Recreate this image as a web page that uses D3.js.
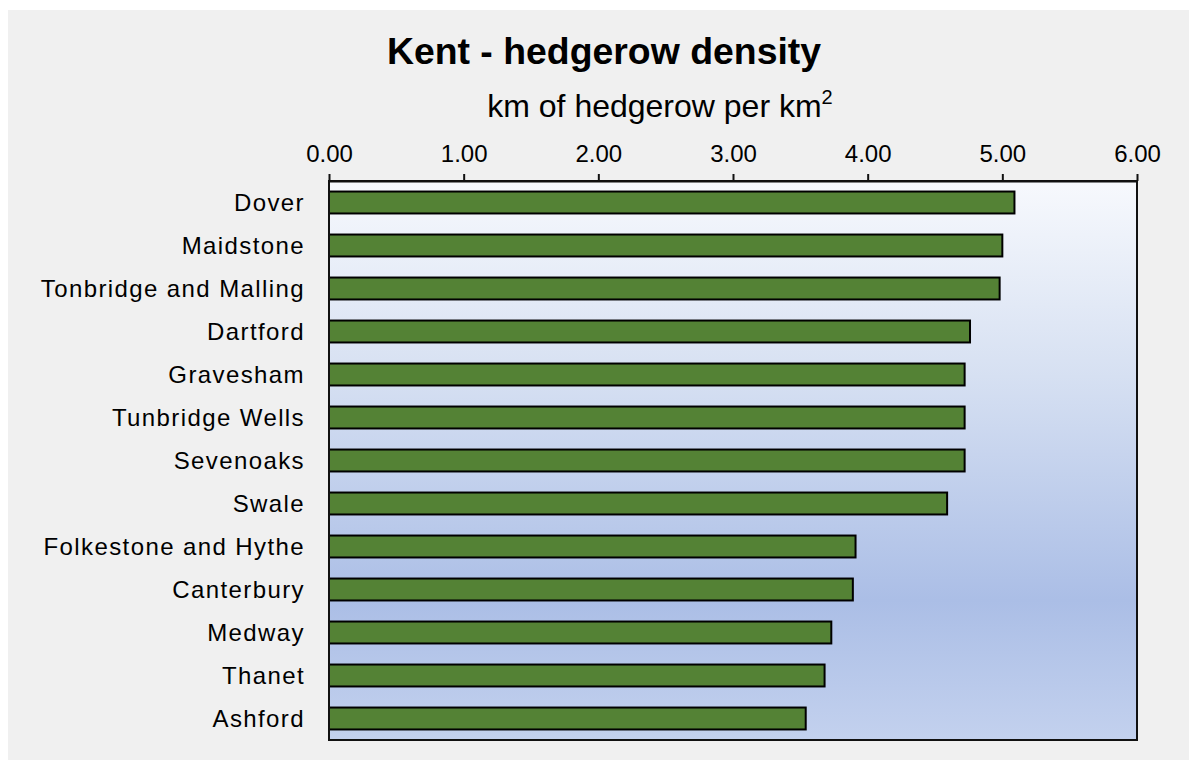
<!DOCTYPE html>
<html>
<head>
<meta charset="utf-8">
<script src="https://cdn.jsdelivr.net/npm/d3@7"></script>
<style>
  html, body { margin: 0; padding: 0; background: #ffffff; }
  svg { display: block; }
  text { font-family: "Liberation Sans", Arial, sans-serif; fill: #000; }
</style>
</head>
<body>
<svg id="chart" width="1189" height="760"></svg>
<script>
const categories = ["Dover", "Maidstone", "Tonbridge and Malling", "Dartford", "Gravesham",
  "Tunbridge Wells", "Sevenoaks", "Swale", "Folkestone and Hythe", "Canterbury",
  "Medway", "Thanet", "Ashford"];
const values = [5.09, 5.00, 4.98, 4.76, 4.72, 4.72, 4.72, 4.59, 3.91, 3.89, 3.73, 3.68, 3.54];
const tickValues = [0, 1, 2, 3, 4, 5, 6];
const titleText = "Kent - hedgerow density";
const subtitleText = "km of hedgerow per km";

const svg = d3.select("#chart");
const W = 1189, H = 760;
const m = { left: 329, right: 1137, top: 181, bottom: 740 };

// outer grey background
svg.append("rect").attr("x", 8).attr("y", 10).attr("width", W - 8).attr("height", H - 10)
  .attr("fill", "#f0f0f0");

// gradient
const defs = svg.append("defs");
const grad = defs.append("linearGradient").attr("id", "bg").attr("x1", 0).attr("y1", 0).attr("x2", 0).attr("y2", 1);
grad.append("stop").attr("offset", "0%").attr("stop-color", "#f7f9fd");
grad.append("stop").attr("offset", "35%").attr("stop-color", "#d6e0f2");
grad.append("stop").attr("offset", "75%").attr("stop-color", "#abbee6");
grad.append("stop").attr("offset", "100%").attr("stop-color", "#c3d1ee");

const x = d3.scaleLinear().domain([0, 6]).range([m.left, m.right]);
const y = d3.scaleBand().domain(categories).range([m.top, m.bottom]).paddingInner(0.49).paddingOuter(0.245);

svg.append("rect").attr("x", m.left).attr("y", m.top)
  .attr("width", m.right - m.left).attr("height", m.bottom - m.top)
  .attr("fill", "url(#bg)");

// bars
svg.append("g").selectAll("rect").data(categories).join("rect")
  .attr("x", x(0))
  .attr("y", d => y(d))
  .attr("width", (d, i) => x(values[i]) - x(0))
  .attr("height", y.bandwidth())
  .attr("fill", "#548235")
  .attr("stroke", "#000")
  .attr("stroke-width", 2);

// frame
svg.append("rect").attr("x", m.left).attr("y", m.top)
  .attr("width", m.right - m.left).attr("height", m.bottom - m.top)
  .attr("fill", "none").attr("stroke", "#111").attr("stroke-width", 2);

// top axis
const xAxis = d3.axisTop(x).tickValues(tickValues).tickFormat(d3.format(".2f")).tickSize(7).tickSizeOuter(0);
const gx = svg.append("g").attr("transform", `translate(0,${m.top})`).call(xAxis);
gx.select(".domain").attr("stroke", "#111").attr("stroke-width", 2);
gx.selectAll(".tick line").attr("stroke", "#111").attr("stroke-width", 2);
gx.selectAll(".tick text").attr("font-size", 24).attr("font-family", "Liberation Sans, Arial, sans-serif")
  .attr("fill", "#000").attr("y", -19).attr("dy", 0);

// left axis labels
const yAxis = d3.axisLeft(y).tickSize(0).tickPadding(24);
const gy = svg.append("g").attr("transform", `translate(${m.left},0)`).call(yAxis);
gy.select(".domain").remove();
gy.selectAll(".tick text").attr("font-size", 24).attr("font-family", "Liberation Sans, Arial, sans-serif")
  .attr("fill", "#000").attr("letter-spacing", 1.4).attr("dy", "0.34em");

// titles
svg.append("text").attr("x", 604).attr("y", 64).attr("text-anchor", "middle")
  .attr("font-size", 37.4).attr("font-weight", "bold").text(titleText);
const st = svg.append("text").attr("x", 660).attr("y", 117).attr("text-anchor", "middle")
  .attr("font-size", 32);
st.append("tspan").text(subtitleText);
st.append("tspan").attr("font-size", 20).attr("dy", -13).text("2");
</script>
</body>
</html>
